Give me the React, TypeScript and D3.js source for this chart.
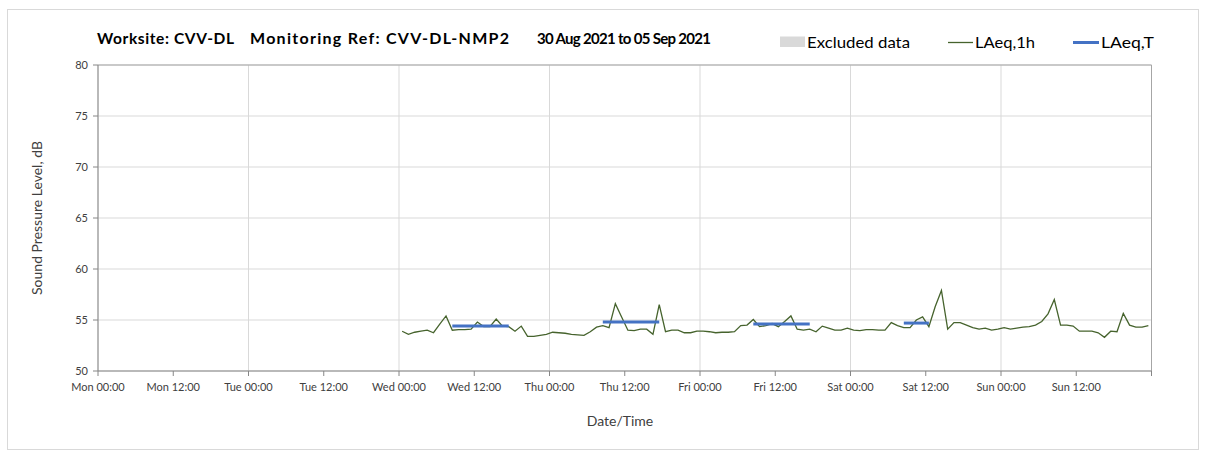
import React from 'react';
import * as d3 from 'd3';

// hourly LAeq,1h readings (dB), plotted at the middle of each hour, Wed 01 Sep -> Sun 05 Sep
const wedLevels = [53.9, 53.6, 53.8, 53.9, 54.0, 53.75, 54.6, 55.4, 54.0, 54.05, 54.05, 54.1,
  54.8, 54.35, 54.35, 55.1, 54.4, 54.35, 53.9, 54.4, 53.4, 53.4, 53.5, 53.6];
const thuLevels = [53.8, 53.75, 53.7, 53.6, 53.55, 53.5, 53.85, 54.3, 54.45, 54.25, 56.6, 55.3,
  54.0, 53.95, 54.1, 54.1, 53.6, 56.5, 53.85, 54.0, 54.0, 53.75, 53.75, 53.9];
const friLevels = [53.9, 53.85, 53.75, 53.8, 53.8, 53.85, 54.45, 54.5, 55.05, 54.35, 54.45, 54.65,
  54.35, 54.85, 55.4, 54.1, 54.0, 54.1, 53.85, 54.4, 54.2, 54.0, 54.0, 54.2];
const satLevels = [54.0, 53.95, 54.05, 54.05, 54.0, 54.0, 54.75, 54.45, 54.25, 54.25, 55.0, 55.3,
  54.35, 56.3, 57.9, 54.1, 54.75, 54.75, 54.5, 54.25, 54.1, 54.2, 54.0, 54.1];
const sunLevels = [54.25, 54.1, 54.2, 54.3, 54.35, 54.5, 54.85, 55.6, 57.0, 54.5, 54.5, 54.4,
  53.9, 53.9, 53.9, 53.75, 53.3, 53.9, 53.85, 55.65, 54.5, 54.3, 54.3, 54.45];

// LAeq,T over the daytime periods
const periodStarts = ['2021-09-01 08:30', '2021-09-02 08:30', '2021-09-03 08:30', '2021-09-04 08:30'];
const periodEnds = ['2021-09-01 17:30', '2021-09-02 17:30', '2021-09-03 17:30', '2021-09-04 12:30'];
const periodLevels = [54.4, 54.8, 54.6, 54.7];

const yTicks = [50, 55, 60, 65, 70, 75, 80];

const parse = d3.timeParse('%Y-%m-%d %H:%M');
const firstReading = parse('2021-09-01 00:30') as Date;
const domainStart = parse('2021-08-30 00:00') as Date;
const domainEnd = parse('2021-09-06 00:00') as Date;

const hourly = [...wedLevels, ...thuLevels, ...friLevels, ...satLevels, ...sunLevels].map((v, i) => ({
  t: d3.timeHour.offset(firstReading, i),
  v,
}));

const font = 'Lato, "Open Sans", sans-serif';

export default function App() {
  const W = 1205, H = 454;
  const left = 98, right = 1151.5, top = 65, bottom = 371;

  const x = d3.scaleTime().domain([domainStart, domainEnd]).range([left, right]);
  const y = d3.scaleLinear().domain([50, 80]).range([bottom, top]);

  const halfDays = d3.timeHour.every(12)!.range(domainStart, d3.timeHour.offset(domainEnd, 1));
  const days = d3.timeDay.range(domainStart, d3.timeHour.offset(domainEnd, 1));
  const fmt = d3.timeFormat('%a %H:%M');

  const line = d3.line<{ t: Date; v: number }>().x(d => x(d.t)).y(d => y(d.v));

  const green = '#46632d';
  const blue = '#4472c4';

  return (
    <svg width={W} height={H} style={{ position: 'absolute', left: 0, top: 0 }} fontFamily={font}>
      <rect x={7.5} y={9.5} width={1191} height={440} fill="#fff" stroke="#d9d9d9" />

      {/* grid */}
      {yTicks.map(t => (
        <line key={'gy' + t} x1={left} x2={right} y1={y(t)} y2={y(t)} stroke="#d9d9d9" />
      ))}
      {days.map(d => (
        <line key={'gx' + +d} x1={x(d)} x2={x(d)} y1={top} y2={bottom} stroke="#d9d9d9" />
      ))}
      <line x1={left} x2={right} y1={top} y2={top} stroke="#a6a6a6" />
      <line x1={right} x2={right} y1={top} y2={bottom} stroke="#a6a6a6" />
      <line x1={left} x2={left} y1={top} y2={bottom} stroke="#868686" />
      <line x1={left} x2={right} y1={bottom} y2={bottom} stroke="#868686" />

      {/* y axis */}
      {yTicks.map(t => (
        <g key={'yt' + t}>
          <line x1={left - 5} x2={left} y1={y(t)} y2={y(t)} stroke="#868686" />
          <text x={left - 10} y={y(t)} dy="0.35em" textAnchor="end" fontSize={11} fill="#404040">{t}</text>
        </g>
      ))}
      <text transform={`translate(42,${(top + bottom) / 2}) rotate(-90)`} textAnchor="middle" fontSize={14} fill="#404040">
        Sound Pressure Level, dB
      </text>

      {/* x axis */}
      {halfDays.map((d, i) => (
        <g key={'xt' + +d}>
          <line x1={x(d)} x2={x(d)} y1={bottom} y2={bottom + 5} stroke="#868686" />
          {i < halfDays.length - 1 && (
            <text x={x(d)} y={bottom + 16} dy="0.35em" textAnchor="middle" fontSize={11} fill="#404040">{fmt(d)}</text>
          )}
        </g>
      ))}
      <text x={620} y={426} textAnchor="middle" fontSize={14} fill="#404040">Date/Time</text>

      {/* series */}
      <path d={line(hourly) as string} fill="none" stroke={green} strokeWidth={1.3} />
      {periodLevels.map((v, i) => (
        <line key={'lt' + i} x1={x(parse(periodStarts[i]) as Date)} x2={x(parse(periodEnds[i]) as Date)}
          y1={y(v)} y2={y(v)} stroke={blue} strokeWidth={3} />
      ))}

      {/* title */}
      <g fontWeight="bold" fill="#000">
        <text x={97} y={44} fontSize={15.5} textLength={137} lengthAdjust="spacing">Worksite: CVV-DL</text>
        <text x={250} y={44} fontSize={16} textLength={259} lengthAdjust="spacing">Monitoring Ref: CVV-DL-NMP2</text>
        <text x={537} y={44} fontSize={15} textLength={174} lengthAdjust="spacing">30 Aug 2021 to 05 Sep 2021</text>
      </g>

      {/* legend */}
      <g fontSize={16} fill="#000">
        <rect x={780} y={36.5} width={25} height={10.5} fill="#d9d9d9" />
        <text x={807} y={47.5} textLength={103} lengthAdjust="spacingAndGlyphs">Excluded data</text>
        <line x1={948} x2={973} y1={42.5} y2={42.5} stroke={green} strokeWidth={1.3} />
        <text x={975} y={47.5} textLength={60} lengthAdjust="spacingAndGlyphs">LAeq,1h</text>
        <line x1={1073} x2={1099} y1={42.5} y2={42.5} stroke={blue} strokeWidth={3} />
        <text x={1101} y={47.5} textLength={53} lengthAdjust="spacingAndGlyphs">LAeq,T</text>
      </g>
    </svg>
  );
}
